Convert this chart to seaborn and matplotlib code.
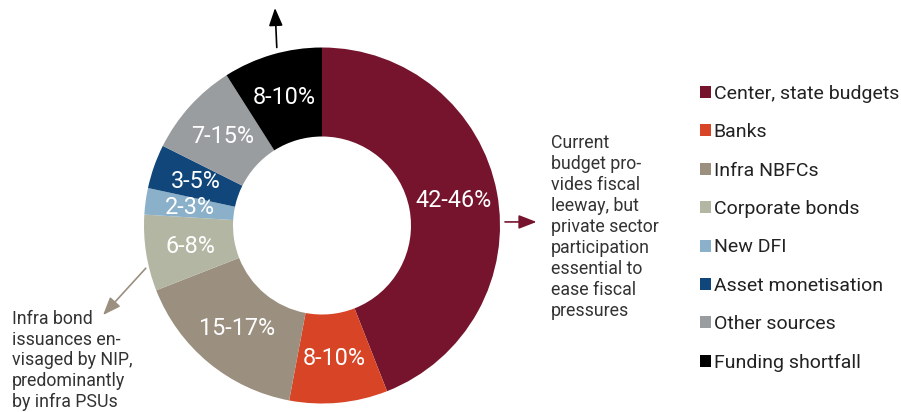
import matplotlib
matplotlib.use("Agg")
import matplotlib.pyplot as plt
from matplotlib.patches import Patch
import seaborn as sns

# Funding sources for the National Infrastructure Pipeline
sources = [
    "Center, state budgets",
    "Banks",
    "Infra NBFCs",
    "Corporate bonds",
    "New DFI",
    "Asset monetisation",
    "Other sources",
    "Funding shortfall",
]
share_labels = ["42-46%", "8-10%", "15-17%", "6-8%", "2-3%", "3-5%", "7-15%", "8-10%"]
share = [44.0, 8.9, 16.1, 6.9, 2.4, 4.0, 8.6, 9.0]
colors = ["#76142d", "#d84426", "#9b8f80", "#b3b6a3", "#8ab0ca",
          "#10467a", "#9a9d9f", "#000000"]

budget_note = ("Current\nbudget pro-\nvides fiscal\nleeway, but\nprivate sector\n"
               "participation\nessential to\nease fiscal\npressures")
bond_note = "Infra bond\nissuances en-\nvisaged by NIP,\npredominantly\nby infra PSUs"

sns.set_theme(style="white")
plt.rcParams["font.family"] = ["Roboto", "DejaVu Sans"]
palette = sns.color_palette(colors)

W, H = 901, 412
fig = plt.figure(figsize=(W / 100, H / 100), dpi=100)

cx, cy, r = 322, 225.5, 178
ax = fig.add_axes([(cx - r) / W, (H - cy - r) / H, 2 * r / W, 2 * r / H])

wedges, texts = ax.pie(
    share,
    colors=palette,
    startangle=90,
    counterclock=False,
    radius=1.0,
    labels=share_labels,
    labeldistance=0.75,
    wedgeprops=dict(width=0.5, linewidth=0),
    textprops=dict(color="white", fontsize=16.8, ha="center", va="center"),
)
ax.set_xlim(-1, 1)
ax.set_ylim(-1, 1)
ax.set_aspect("equal")
ax.axis("off")

# arrows pointing out of the ring
arrow_kw = dict(arrowstyle="-|>,head_length=0.9,head_width=0.35", lw=1.2,
                shrinkA=0, shrinkB=0)
ax.annotate("", xy=(-0.264, 1.222), xytext=(-0.254, 1.0),
            arrowprops=dict(color="black", **arrow_kw), annotation_clip=False)
ax.annotate("", xy=(1.205, 0.02), xytext=(1.028, 0.02),
            arrowprops=dict(color="#76142d", **arrow_kw), annotation_clip=False)
ax.annotate("", xy=(-1.23, -0.503), xytext=(-0.99, -0.24),
            arrowprops=dict(color="#9b8f80", **arrow_kw), annotation_clip=False)

fig.text(551 / W, 1 - 134 / H, budget_note, fontsize=12.8, color="#333333",
         ha="left", va="top", linespacing=1.21)
fig.text(12 / W, 1 - 310 / H, bond_note, fontsize=12.8, color="#333333",
         ha="left", va="top", linespacing=1.19)

handles = [Patch(facecolor=c, edgecolor="none") for c in palette]
fig.legend(handles, sources, loc="upper left",
           bbox_to_anchor=(692 / W, 1 - 77 / H), frameon=False,
           fontsize=14, handlelength=0.57, handleheight=0.57,
           handletextpad=0.15, labelspacing=1.05, borderaxespad=0,
           labelcolor="#222222")

fig.savefig("out.png", dpi=100)
